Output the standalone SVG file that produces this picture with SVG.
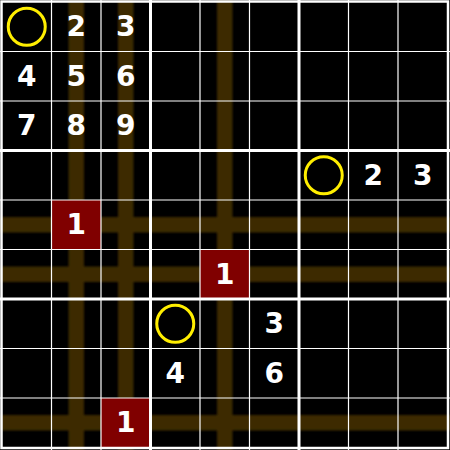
<svg xmlns="http://www.w3.org/2000/svg" width="450" height="450" viewBox="0 0 450 450">
<defs>
<filter id="soft" x="-0.1" y="-0.1" width="1.2" height="1.2"><feGaussianBlur stdDeviation="0.8"/></filter>
<style>
.band{fill:#3e2a03;}
.thin{stroke:#ffffff;stroke-width:1.2;}
.thick{stroke:#ffffff;stroke-width:3;}
.d{font-family:"DejaVu Sans",Verdana,sans-serif;font-weight:bold;font-size:28px;fill:#ffffff;text-anchor:middle;}
.ring{fill:none;stroke:#ffee00;stroke-width:3;}
.red{fill:#800000;}
</style>
</defs>
<rect x="0" y="0" width="450" height="450" fill="#000000"/>
<g id="bands" filter="url(#soft)">
<rect class="band" x="68.5" y="0" width="15.5" height="450"/>
<rect class="band" x="118" y="0" width="15.5" height="450"/>
<rect class="band" x="217" y="0" width="15.5" height="450"/>
<rect class="band" x="0" y="217" width="450" height="15.5"/>
<rect class="band" x="0" y="266.5" width="450" height="15.5"/>
<rect class="band" x="0" y="415" width="450" height="15.5"/>
</g>
<g id="red-cells">
<rect class="red" x="51.5" y="200" width="49.5" height="49.5"/>
<rect class="red" x="200" y="249.5" width="49.5" height="49.5"/>
<rect class="red" x="101" y="398" width="49.5" height="49.5"/>
</g>
<g id="grid">
<line class="thin" x1="51.5" y1="0" x2="51.5" y2="450"/>
<line class="thin" x1="101" y1="0" x2="101" y2="450"/>
<line class="thin" x1="200" y1="0" x2="200" y2="450"/>
<line class="thin" x1="249.5" y1="0" x2="249.5" y2="450"/>
<line class="thin" x1="348.5" y1="0" x2="348.5" y2="450"/>
<line class="thin" x1="398" y1="0" x2="398" y2="450"/>
<line class="thin" x1="0" y1="51.5" x2="450" y2="51.5"/>
<line class="thin" x1="0" y1="101" x2="450" y2="101"/>
<line class="thin" x1="0" y1="200" x2="450" y2="200"/>
<line class="thin" x1="0" y1="249.5" x2="450" y2="249.5"/>
<line class="thin" x1="0" y1="348.5" x2="450" y2="348.5"/>
<line class="thin" x1="0" y1="398" x2="450" y2="398"/>
<line class="thick" x1="150.5" y1="0" x2="150.5" y2="450"/>
<line class="thick" x1="299" y1="0" x2="299" y2="450"/>
<line class="thick" x1="0" y1="150.5" x2="450" y2="150.5"/>
<line class="thick" x1="0" y1="299" x2="450" y2="299"/>
<rect x="1.5" y="1.5" width="446.5" height="446.5" fill="none" stroke="#ffffff" stroke-width="2.5"/>
</g>
<g id="rings">
<circle class="ring" cx="26.75" cy="26.75" r="18.5"/>
<circle class="ring" cx="323.75" cy="175.25" r="18.5"/>
<circle class="ring" cx="175.25" cy="323.75" r="18.5"/>
</g>
<g id="digits">
<text class="d" x="76.25" y="36">2</text>
<text class="d" x="125.75" y="36">3</text>
<text class="d" x="26.75" y="85.5">4</text>
<text class="d" x="76.25" y="85.5">5</text>
<text class="d" x="125.75" y="85.5">6</text>
<text class="d" x="26.75" y="135">7</text>
<text class="d" x="76.25" y="135">8</text>
<text class="d" x="125.75" y="135">9</text>
<text class="d" x="373.25" y="184.5">2</text>
<text class="d" x="422.75" y="184.5">3</text>
<text class="d" x="76.25" y="234">1</text>
<text class="d" x="224.75" y="283.5">1</text>
<text class="d" x="274.25" y="333">3</text>
<text class="d" x="175.25" y="382.5">4</text>
<text class="d" x="274.25" y="382.5">6</text>
<text class="d" x="125.75" y="432">1</text>
</g>
</svg>
